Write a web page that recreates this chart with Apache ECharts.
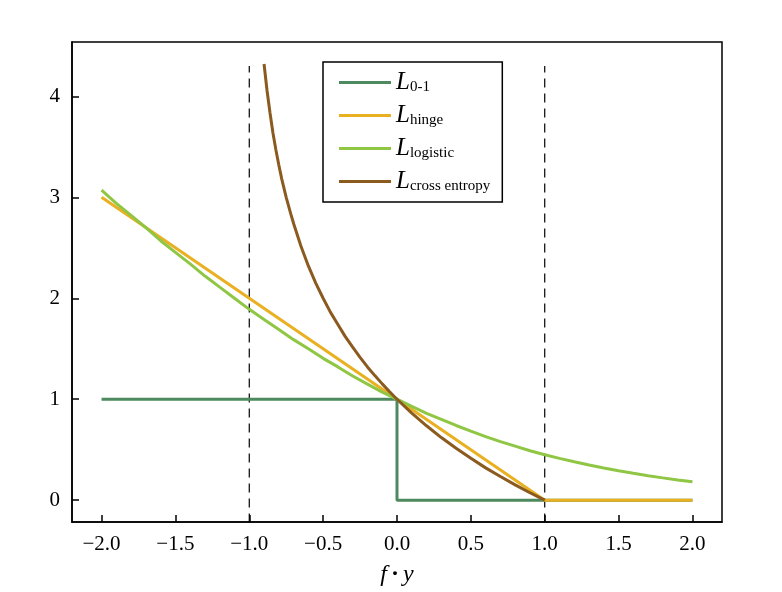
<!DOCTYPE html>
<html>
<head>
<meta charset="utf-8">
<script src="https://cdn.jsdelivr.net/npm/echarts@6/dist/echarts.min.js"></script>
<style>html,body{margin:0;padding:0;background:#fff}#c{width:782px;height:592px}</style>
</head>
<body>
<div id="c"></div>
<script>
// ---- data ----
const zeroOneX = [-2.0, 0.0, 0.0, 2.0];
const zeroOneY = [1, 1, 0, 0];
const hingeX = [-2.0, 1.0, 2.0];
const hingeY = [3.0, 0.0, 0.0];
const logisticX = [-2.0,-1.9,-1.8,-1.7,-1.6,-1.5,-1.4,-1.3,-1.2,-1.1,-1.0,-0.9,-0.8,-0.7,-0.6,-0.5,-0.4,-0.3,-0.2,-0.1,0.0,0.1,0.2,0.3,0.4,0.5,0.6,0.7,0.8,0.9,1.0,1.1,1.2,1.3,1.4,1.5,1.6,1.7,1.8,1.9,2.0];
const logisticY = [3.07,2.94,2.82,2.70,2.57,2.455,2.34,2.22,2.11,2.00,1.89,1.79,1.69,1.59,1.50,1.405,1.32,1.23,1.15,1.07,1.00,0.93,0.86,0.80,0.74,0.684,0.63,0.58,0.535,0.49,0.45,0.414,0.38,0.348,0.318,0.291,0.266,0.242,0.221,0.201,0.183];
const crossX = [-0.9,-0.88,-0.86,-0.84,-0.82,-0.8,-0.78,-0.75,-0.72,-0.7,-0.65,-0.6,-0.55,-0.5,-0.45,-0.4,-0.35,-0.3,-0.25,-0.2,-0.15,-0.1,-0.05,0.0,0.1,0.2,0.3,0.4,0.5,0.6,0.7,0.8,0.9,1.0];
const crossY = [4.32,4.06,3.84,3.64,3.47,3.32,3.18,3.00,2.84,2.74,2.515,2.32,2.15,2.00,1.86,1.74,1.62,1.515,1.415,1.32,1.234,1.152,1.074,1.00,0.862,0.737,0.62,0.515,0.415,0.32,0.234,0.152,0.074,0.0];
const vlineX = [-1.0, 1.0];
const vlineY = [-0.22, 4.3];
const xTicks = [-2.0,-1.5,-1.0,-0.5,0.0,0.5,1.0,1.5,2.0];
const yTicks = [0,1,2,3,4];
const seriesNames = ['L0-1','Lhinge','Llogistic','Lcross entropy'];
const subs = ['0-1','hinge','logistic','cross entropy'];
const colors = ['#4e8a5f','#e9b021','#8fc643','#8b5a1f'];

const pairs = (xs, ys) => xs.map((x, i) => [x, ys[i]]);
const serif = 'Liberation Serif';
const chart = echarts.init(document.getElementById('c'));
const lineSeries = (name, xs, ys, color) => ({
  name, type: 'line', data: pairs(xs, ys), showSymbol: false, symbol: 'none',
  smooth: false, lineStyle: { color, width: 3 }, itemStyle: { color }, z: 3, animation: false
});
const vSeries = (x) => ({
  type: 'line', data: [[x, vlineY[0]], [x, vlineY[1]]], showSymbol: false, symbol: 'none',
  lineStyle: { color: '#000', width: 1.2, type: [9, 6] }, z: 2, animation: false, silent: true
});
chart.setOption({
  backgroundColor: '#fff',
  animation: false,
  grid: { left: 72, right: 60, top: 42, bottom: 69, show: true, borderColor: '#000', borderWidth: 1.5, backgroundColor: 'transparent' },
  xAxis: {
    type: 'value', min: -2.2, max: 2.2,
    name: '{i|f}{n|·}{i|y}', nameLocation: 'middle', nameGap: 41,
    nameTextStyle: { rich: { i: { fontFamily: serif, fontStyle: 'italic', fontSize: 24, color: '#000' }, n: { fontFamily: serif, fontSize: 24, fontWeight: 'bold', color: '#000', padding: [0, 4, 0, 4] } } },
    axisLine: { show: true, onZero: false, lineStyle: { color: '#000', width: 1.5 } },
    axisTick: { show: true, inside: true, length: 7, customValues: xTicks, lineStyle: { color: '#000', width: 1.5 } },
    axisLabel: { customValues: xTicks, margin: 12, fontFamily: serif, fontSize: 21, color: '#000', formatter: v => v.toFixed(1).replace('-', '\u2212') },
    splitLine: { show: false }
  },
  yAxis: {
    type: 'value', min: -0.216, max: 4.538,
    axisLine: { show: true, onZero: false, lineStyle: { color: '#000', width: 1.5 } },
    axisTick: { show: true, inside: true, length: 7, customValues: yTicks, lineStyle: { color: '#000', width: 1.5 } },
    axisLabel: { customValues: yTicks, margin: 12, fontFamily: serif, fontSize: 21, color: '#000', formatter: v => String(Math.round(v)) },
    splitLine: { show: false }
  },
  legend: {
    data: seriesNames, orient: 'vertical', left: 323, top: 62,
    width: 180, itemWidth: 52, itemHeight: 3, itemGap: 8, icon: 'rect',
    padding: [8, 12, 8, 16], borderColor: '#000', borderWidth: 1.5, backgroundColor: '#fff',
    formatter: name => '{L|L}{s|' + subs[seriesNames.indexOf(name)] + '}',
    textStyle: { rich: {
      L: { fontFamily: serif, fontStyle: 'italic', fontSize: 25, color: '#000', lineHeight: 26 },
      s: { fontFamily: serif, fontSize: 15, color: '#000', padding: [10, 0, 0, 0], lineHeight: 26 }
    } }
  },
  series: [
    vSeries(vlineX[0]), vSeries(vlineX[1]),
    lineSeries(seriesNames[0], zeroOneX, zeroOneY, colors[0]),
    lineSeries(seriesNames[1], hingeX, hingeY, colors[1]),
    lineSeries(seriesNames[2], logisticX, logisticY, colors[2]),
    lineSeries(seriesNames[3], crossX, crossY, colors[3])
  ]
});
</script>
</body>
</html>
